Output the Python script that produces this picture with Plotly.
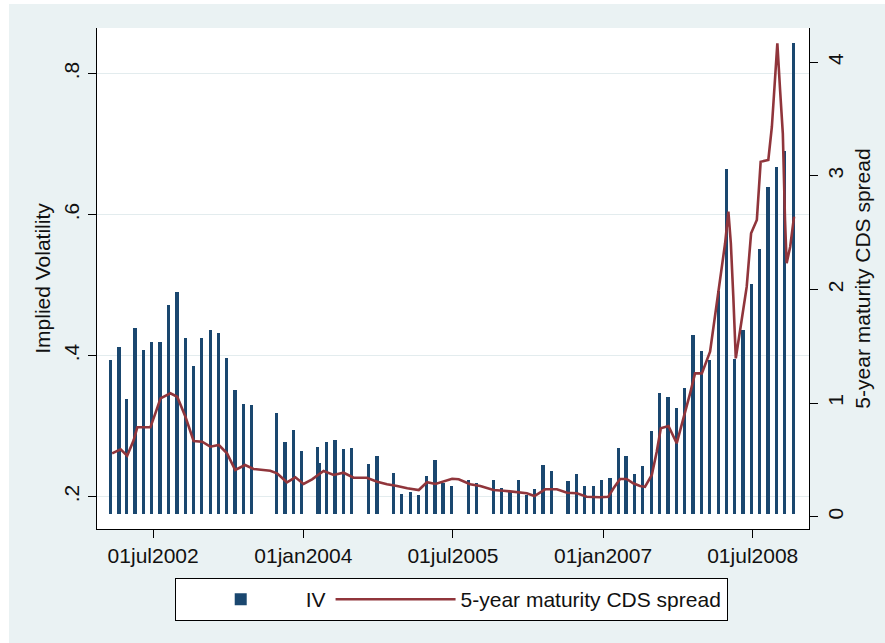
import plotly.graph_objects as go

# ---------------- data ----------------
bar_dates = [
    "2002-01-26", "2002-02-26", "2002-03-26", "2002-04-26", "2002-05-26", "2002-06-26",
    "2002-07-26", "2002-08-26", "2002-09-26", "2002-10-26", "2002-11-26", "2002-12-26",
    "2003-01-26", "2003-02-26", "2003-03-26", "2003-04-26", "2003-05-26", "2003-06-26",
    "2003-09-26", "2003-10-26", "2003-11-26", "2003-12-26",
    "2004-02-22", "2004-02-29", "2004-03-26", "2004-04-26", "2004-05-26", "2004-06-26",
    "2004-08-26", "2004-09-26", "2004-11-26", "2004-12-26",
    "2005-01-26", "2005-02-26", "2005-03-26", "2005-04-26", "2005-05-26", "2005-06-26",
    "2005-08-26", "2005-09-26", "2005-11-26", "2005-12-26",
    "2006-01-26", "2006-02-26", "2006-03-26", "2006-04-26", "2006-05-26", "2006-06-26",
    "2006-08-26", "2006-09-26", "2006-10-26", "2006-11-26", "2006-12-26",
    "2007-01-26", "2007-02-26", "2007-03-26", "2007-04-26", "2007-05-26", "2007-06-26",
    "2007-07-26", "2007-08-26", "2007-09-26", "2007-10-26", "2007-11-26", "2007-12-26",
    "2008-01-26", "2008-02-26", "2008-03-26", "2008-04-26", "2008-05-26", "2008-06-26",
    "2008-07-26", "2008-08-26", "2008-09-26", "2008-10-26", "2008-11-26",
]
iv_values = [
    0.394, 0.413, 0.339, 0.440, 0.408, 0.420,
    0.420, 0.472, 0.490, 0.425, 0.386, 0.425,
    0.437, 0.432, 0.397, 0.351, 0.332, 0.330,
    0.319, 0.278, 0.295, 0.265,
    0.271, 0.248, 0.278, 0.280, 0.267, 0.269,
    0.247, 0.258, 0.234, 0.204,
    0.207, 0.202, 0.230, 0.252, 0.220, 0.215,
    0.224, 0.219, 0.224, 0.213,
    0.208, 0.224, 0.202, 0.211, 0.245, 0.237,
    0.222, 0.232, 0.215, 0.215, 0.224,
    0.226, 0.269, 0.258, 0.232, 0.244, 0.293,
    0.347, 0.342, 0.326, 0.354, 0.430, 0.406,
    0.394, 0.492, 0.665, 0.396, 0.436, 0.501,
    0.552, 0.639, 0.667, 0.691, 0.844,
]
iv_base = 0.175

cds_dates = [
    "2002-02-01", "2002-03-04", "2002-03-28", "2002-04-21", "2002-05-04", "2002-06-21",
    "2002-07-09", "2002-07-28", "2002-09-02", "2002-09-27", "2002-10-27", "2002-11-26",
    "2002-12-27", "2003-01-26", "2003-02-26", "2003-03-28", "2003-04-27", "2003-06-02",
    "2003-07-03", "2003-09-02", "2003-09-27", "2003-11-02", "2003-12-03", "2004-01-02",
    "2004-02-02", "2004-02-26", "2004-03-15", "2004-04-21", "2004-05-27", "2004-07-03",
    "2004-08-20", "2004-09-27", "2004-11-02", "2004-12-09", "2005-01-15", "2005-02-26",
    "2005-03-28", "2005-04-28", "2005-05-28", "2005-06-28", "2005-07-22", "2005-09-02",
    "2005-10-09", "2005-11-26", "2006-01-02", "2006-02-08", "2006-03-28", "2006-04-25",
    "2006-06-03", "2006-07-16", "2006-08-22", "2006-09-27", "2006-11-02", "2006-12-22",
    "2007-01-20", "2007-02-08", "2007-03-04", "2007-03-28", "2007-04-21", "2007-05-16",
    "2007-06-03", "2007-06-28", "2007-07-10", "2007-07-16", "2007-07-31", "2007-08-28",
    "2007-09-27", "2007-10-21", "2007-11-15", "2007-12-03", "2007-12-28", "2008-01-27",
    "2008-02-10", "2008-02-26", "2008-03-10", "2008-03-22", "2008-04-03", "2008-04-12",
    "2008-04-21", "2008-04-30", "2008-05-16", "2008-06-09", "2008-06-25", "2008-07-16",
    "2008-07-30", "2008-08-27", "2008-09-09", "2008-09-20", "2008-09-29", "2008-10-09",
    "2008-10-19", "2008-10-27", "2008-11-02", "2008-11-15", "2008-11-29",
]
cds_values = [
    0.558, 0.593, 0.537, 0.675, 0.787, 0.787,
    0.910, 1.042, 1.086, 1.056, 0.880, 0.666,
    0.660, 0.616, 0.631, 0.558, 0.411, 0.455,
    0.420, 0.405, 0.382, 0.303, 0.347, 0.288,
    0.329, 0.373, 0.402, 0.367, 0.387, 0.343,
    0.343, 0.308, 0.285, 0.270, 0.250, 0.235,
    0.303, 0.288, 0.314, 0.334, 0.329, 0.286,
    0.270, 0.235, 0.229, 0.217, 0.206, 0.182,
    0.241, 0.241, 0.211, 0.206, 0.176, 0.171,
    0.176, 0.250, 0.332, 0.332, 0.294, 0.270,
    0.262, 0.367, 0.499, 0.572, 0.778, 0.798,
    0.646, 0.851, 1.086, 1.262, 1.262, 1.452,
    1.702, 1.967, 2.231, 2.407, 2.685, 2.407,
    1.937, 1.394, 1.644, 2.025, 2.495, 2.612,
    3.125, 3.140, 3.433, 3.815, 4.167, 3.756,
    3.375, 2.612, 2.231, 2.377, 2.641,
]

x_tick_vals = ["2002-07-01", "2004-01-01", "2005-07-01", "2007-01-01", "2008-07-01"]
x_tick_text = ["01jul2002", "01jan2004", "01jul2005", "01jan2007", "01jul2008"]
y1_tick_vals = [0.2, 0.4, 0.6, 0.8]
y1_tick_text = [".2", ".4", ".6", ".8"]
y2_tick_vals = [0, 1, 2, 3, 4]
y2_tick_text = ["0", "1", "2", "3", "4"]

# ---------------- styling ----------------
NAVY = "#1a476f"
MAROON = "#90353b"
BG = "#eaf2f3"
FONT = "Liberation Sans, Arial, sans-serif"
TXT = "#111111"
FS = 21

fig = go.Figure()
fig.add_trace(go.Bar(
    x=bar_dates,
    y=[v - iv_base for v in iv_values],
    base=iv_base,
    width=12 * 86400000,
    marker=dict(color=NAVY, line=dict(width=0)),
    name="IV",
    yaxis="y",
))
fig.add_trace(go.Scatter(
    x=cds_dates,
    y=cds_values,
    mode="lines",
    line=dict(color=MAROON, width=2.6),
    name="5-year maturity CDS spread",
    yaxis="y2",
))

axis_common = dict(
    showline=True, linecolor="black", linewidth=1,
    ticks="outside", ticklen=8, tickwidth=1, tickcolor="black",
    tickfont=dict(family=FONT, size=FS, color=TXT),
    zeroline=False,
    automargin=False,
)

fig.update_layout(
    width=885, height=643,
    margin=dict(l=97, r=76, t=28, b=114, pad=0),
    paper_bgcolor=BG,
    plot_bgcolor="white",
    font=dict(family=FONT, size=FS, color=TXT),
    bargap=0,
    xaxis=dict(
        type="date",
        range=["2001-12-07 16:48", "2009-01-22 16:48"],
        tickmode="array", tickvals=x_tick_vals, ticktext=x_tick_text,
        showgrid=False,
        ticklabelstandoff=0,
        **axis_common,
    ),
    yaxis=dict(
        range=[0.1542, 0.8648],
        tickmode="array", tickvals=y1_tick_vals, ticktext=y1_tick_text,
        tickangle=-90,
        showgrid=True, gridcolor="#e3ecee", gridwidth=1,
        title=dict(text="Implied Volatility", font=dict(family=FONT, size=FS, color=TXT), standoff=3),
        ticklabelstandoff=1,
        **axis_common,
    ),
    yaxis2=dict(
        overlaying="y", side="right",
        range=[-0.1083, 4.302],
        tickmode="array", tickvals=y2_tick_vals, ticktext=y2_tick_text,
        tickangle=-90,
        showgrid=False,
        title=dict(text="5-year maturity CDS spread", font=dict(family=FONT, size=FS, color=TXT), standoff=9),
        ticklabelstandoff=0,
        **axis_common,
    ),
    showlegend=True,
    legend=dict(
        orientation="h",
        x=0.4975, xanchor="center",
        y=-0.098, yanchor="top",
        bgcolor="white", bordercolor="black", borderwidth=1,
        font=dict(family=FONT, size=FS, color=TXT),
        itemwidth=120,
        traceorder="normal",
    ),
    shapes=[
        dict(type="rect", xref="paper", yref="paper", layer="below",
             x0=-0.2, x1=1.2, y0=1.0479, y1=1.1, fillcolor="white", line=dict(width=0)),
        dict(type="rect", xref="paper", yref="paper", layer="below",
             x0=-0.2, x1=-0.1236, y0=-0.3, y1=1.1, fillcolor="white", line=dict(width=0)),
    ],
)

fig.write_html("out.html", config={"displayModeBar": False},
               post_script="document.body.style.margin='0';")
